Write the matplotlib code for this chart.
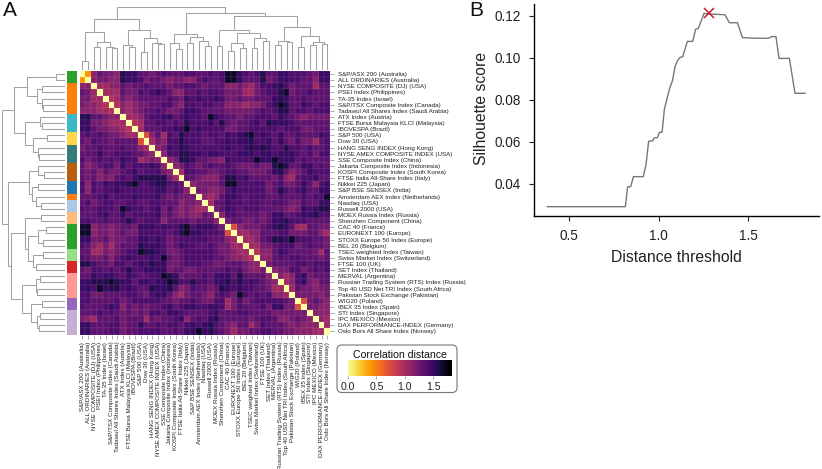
import numpy as np
import matplotlib
matplotlib.use("Agg")
import matplotlib.pyplot as plt
from matplotlib.patches import FancyBboxPatch

plt.rcParams['font.family'] = ['Liberation Sans', 'DejaVu Sans']

W, H = 822, 469

index_names = [
    "S&P/ASX 200 (Australia)", "ALL ORDINARIES (Australia)", "NYSE COMPOSITE (DJ) (USA)",
    "PSEI Index (Philippines)", "TA-35 Index (Israel)", "S&P/TSX Composite Index (Canada)",
    "Tadawul All Shares Index (Saudi Arabia)", "ATX Index (Austria)",
    "FTSE Bursa Malaysia KLCI (Malaysia)", "IBOVESPA (Brazil)", "S&P 500 (USA)", "Dow 30 (USA)",
    "HANG SENG INDEX (Hong Kong)", "NYSE AMEX COMPOSITE INDEX (USA)", "SSE Composite Index (China)",
    "Jakarta Composite Index (Indonesia)", "KOSPI Composite Index (South Korea)",
    "FTSE Italia All-Share Index (Italy)", "Nikkei 225 (Japan)", "S&P BSE SENSEX (India)",
    "Amsterdam AEX Index (Netherlands)", "Nasdaq (USA)", "Russell 2000 (USA)",
    "MOEX Russia Index (Russia)", "Shenzhen Component (China)", "CAC 40 (France)",
    "EURONEXT 100 (Europe)", "STOXX Europe 50 Index (Europe)", "BEL 20 (Belgium)",
    "TSEC weighted Index (Taiwan)", "Swiss Market Index (Switzerland)", "FTSE 100 (UK)",
    "SET Index (Thailand)", "MERVAL (Argentina)", "Russian Trading System (RTS) Index (Russia)",
    "Top 40 USD Net TRI Index (South Africa)", "Pakistan Stock Exchange (Pakistan)", "WIG20 (Poland)",
    "IBEX 35 Index (Spain)", "STI Index (Singapore)", "IPC MEXICO (Mexico)",
    "DAX PERFORMANCE-INDEX (Germany)", "Oslo Bors All Share Index (Norway)",
]

# upper triangle of the distance matrix, read cell by cell (coded shades)
upper_rows = [
    "a354438775" "5456555665" "5656997656" "8557766654" "77",
    "3443387764" "5543443356" "5569975558" "4577665537" "7",
    "2233545565" "5545566545" "5533432466" "7864555255",
    "2225446567" "6533556566" "5444224566" "894556555",
    "1243455555" "6547676676" "4454455578" "75565555",
    "1323445566" "4366566553" "3323346798" "5576566",
    "3234556544" "5776555544" "4445656885" "665666",
    "2235667756" "7665976554" "5566657654" "34444",
    "1255665658" "6667585455" "6758777655" "5555",
    "2555667796" "7666644556" "6666566644" "555",
    "b352658666" "5665767896" "7657556555" "76",
    "2436686665" "5667677866" "7575464425" "6",
    "3476876666" "6676678787" "6686656556",
    "3668877677" "6667776776" "777656466",
    "3488755443" "7666697797" "77565555",
    "3465456556" "5444544898" "5577565",
    "2665544566" "5544457853" "457666",
    "5543335886" "7555546325" "66755",
    "3444459966" "6664564457" "5367",
    "4433467666" "6645865675" "577",
    "3235776566" "6556555656" "69",
    "2557665665" "5665446557" "7",
    "4576566655" "5543476788",
    "3665555457" "755677866",
    "4554454577" "86665555",
    "b344456787" "5225544",
    "2233555664" "445532",
    "2235688796" "66554",
    "2244566645" "6554",
    "1335765555" "425",
    "3356566555" "45",
    "4555566566" "6",
    "3446645656",
    "323674555",
    "23674355",
    "2544344",
    "444434",
    "b4543",
    "4433",
    "333",
    "32",
    "2",
]
shade_values = {"a": 0.42, "b": 0.75, "1": 0.95, "2": 1.05, "3": 1.15, "4": 1.25,
                "5": 1.34, "6": 1.42, "7": 1.5, "8": 1.58, "9": 1.7}

# clusters along the rows
cluster_sizes = [2, 5, 3, 2, 3, 3, 2, 1, 2, 2, 4, 2, 2, 4, 2, 4]
cluster_colors = ["#2ca02c", "#ff7f0e", "#3ab8c8", "#ffd54a", "#367a7a", "#b85f10", "#1f77b4",
                  "#ff7f0e", "#aec7e8", "#ffbb78", "#2ca02c", "#98df8a", "#d62728", "#ff9896",
                  "#9467bd", "#c5b0d5"]

# linkage tree: (merge height, left, right); ints are leaf numbers
tree = (190,
        (153,
         (115, (27, 1, 2),
          (83, (70, 3, 4), (70, 5, (67, 6, 7)))),
         (120, (74, 8, (68, 9, 10)),
          (95, (55, 11, 12), (80, 13, (77, 14, 15))))),
        (170,
         (107, (80, 16, (63, 17, 18)),
          (98, (80, 19, 20), (88, 21, (72, 22, 23)))),
         (163,
          (120, (73, 24, 25),
           (112, (80, (58, 26, 27), (65, 28, 29)),
            (95, (65, 30, 31), (88, 32, 33)))),
          (130, (87, (75, 34, 35), (85, 36, 37)),
           (102, (70, 38, 39),
            (83, (75, 40, 41), (77, 42, 43)))))))

# panel B
threshold = [0.379, 0.814, 0.827, 0.844, 0.859, 0.914, 0.929, 0.944, 0.967, 0.974, 0.993, 1.004,
             1.019, 1.032, 1.046, 1.063, 1.078, 1.091, 1.104, 1.119, 1.134, 1.160, 1.190, 1.206,
             1.221, 1.253, 1.268, 1.370, 1.394, 1.439, 1.467, 1.537, 1.612, 1.630, 1.654, 1.671,
             1.729, 1.760, 1.816]
silhouette = [0.0292, 0.0292, 0.0387, 0.0387, 0.0435, 0.0435, 0.0490, 0.0603, 0.0606, 0.0619,
              0.0621, 0.0646, 0.0646, 0.0757, 0.0805, 0.0860, 0.0895, 0.0959, 0.0986, 0.1003,
              0.1006, 0.1079, 0.1079, 0.1137, 0.1141, 0.1213, 0.1210, 0.1206, 0.1168, 0.1168,
              0.1097, 0.1094, 0.1094, 0.1102, 0.1102, 0.0998, 0.0998, 0.0832, 0.0832]
best_threshold, best_score = 1.279, 0.1213


def pax(x0, y0, x1, y1, **kw):
    return fig.add_axes([x0 / W, 1 - y1 / H, (x1 - x0) / W, (y1 - y0) / H], **kw)


def build_matrix():
    n = len(index_names)
    m = np.zeros((n, n))
    for i, row in enumerate(upper_rows):
        assert len(row) == n - i - 1, (i, len(row))
        for k, c in enumerate(row):
            j = i + 1 + k
            m[i, j] = m[j, i] = shade_values[c]
    return m


def draw_tree(node, ax, vertical):
    if isinstance(node, int):
        return node - 0.5, 0
    h, a, b = node
    pa, ha = draw_tree(a, ax, vertical)
    pb, hb = draw_tree(b, ax, vertical)
    ps, hs = [pa, pa, pb, pb], [ha, h, h, hb]
    if vertical:
        ax.plot(ps, hs, color="#a2a2a2", lw=0.75, solid_joinstyle="miter")
    else:
        ax.plot(hs, ps, color="#a2a2a2", lw=0.75, solid_joinstyle="miter")
    return (pa + pb) / 2, h


fig = plt.figure(figsize=(W / 100, H / 100), dpi=100)
n = len(index_names)
dist = build_matrix()

hx0, hx1, hy0, hy1 = 79.5, 330.3, 71, 334.5
ax = pax(hx0, hy0, hx1, hy1)
mesh = ax.pcolormesh(np.arange(n + 1), np.arange(n + 1), dist, cmap="inferno_r", vmin=0, vmax=1.83,
                     edgecolors=(1, 1, 1, 0.04), linewidth=0.3)
ax.set_xlim(0, n)
ax.set_ylim(n, 0)
for s in ax.spines.values():
    s.set_visible(False)
ax.yaxis.tick_right()
ax.set_xticks(np.arange(n) + 0.5)
ax.set_yticks(np.arange(n) + 0.5)
ax.set_xticklabels(index_names, rotation=90, fontsize=4.5, color="#222222", va="top")
ax.set_yticklabels(index_names, fontsize=4.5, color="#222222")
ax.tick_params(axis="both", length=3.2, width=0.5, color="#888888", pad=2)

top = pax(hx0, 6.7, hx1, 70)
draw_tree(tree, top, True)
top.set_xlim(0, n)
top.set_ylim(0, 190)
top.axis("off")

left = pax(1.7, hy0, 65, hy1)
draw_tree(tree, left, False)
left.set_xlim(190, 0)
left.set_ylim(n, 0)
left.axis("off")

strip = pax(67, hy0, 77, hy1)
start = 0
for size, col in zip(cluster_sizes, cluster_colors):
    strip.bar(0.5, size, bottom=start, width=1, color=col, linewidth=0)
    start += size
strip.set_xlim(0, 1)
strip.set_ylim(n, 0)
strip.axis("off")

# colorbar box
deco = fig.add_axes([0, 0, 1, 1], facecolor="none", zorder=3)
deco.set_xlim(0, W)
deco.set_ylim(H, 0)
deco.axis("off")
deco.add_patch(FancyBboxPatch((337, 345), 120, 47.5, boxstyle="round,pad=0,rounding_size=5",
                              fc="none", ec="#777777", lw=0.8))
deco.text(400, 355, "Correlation distance", ha="center", va="center", fontsize=7.6, color="#111111")

cax = pax(348, 360, 452, 376)
cax.set_zorder(4)
cb = fig.colorbar(mesh, cax=cax, orientation="horizontal", ticks=[0, 0.5, 1.0, 1.5])
cb.outline.set_visible(False)
cb.solids.set_edgecolor("face")
cax.tick_params(length=2.5, width=0.5, color="#888888", labelsize=7.6, pad=1.5, labelcolor="#222222")
cax.set_xticklabels(["0.0", "0.5", "1.0", "1.5"])

# panel B
bx = pax(534.3, 3.5, 819, 216)
bx.plot(threshold, silhouette, color="#777777", lw=1.0)
bx.plot([best_threshold], [best_score], marker="x", color="#c01f33", ms=7.5, mew=1.1, ls="none")
bx.set_xlim(0.3065, 1.894)
bx.set_ylim(0.02476, 0.12595)
bx.set_xticks([0.5, 1.0, 1.5])
bx.set_yticks([0.04, 0.06, 0.08, 0.10, 0.12])
bx.set_yticklabels(["0.04", "0.06", "0.08", "0.10", "0.12"])
bx.spines["top"].set_visible(False)
bx.spines["right"].set_visible(False)
bx.spines["left"].set_linewidth(1.0)
bx.spines["bottom"].set_linewidth(1.0)
bx.tick_params(length=3.5, width=0.8, labelsize=9.8, pad=6, color="#222222", labelcolor="#222222")
fig.text(676 / W, 1 - 257 / H, "Distance threshold", ha="center", va="center", fontsize=11.3, color="#222222")
fig.text(482 / W, 1 - 108 / H, "Silhouette score", rotation=90, ha="center", va="center", fontsize=11.3, color="#222222")

fig.text(10 / W, 1 - 16 / H, "A", ha="center", va="baseline", fontsize=15, color="#111111")
fig.text(476.5 / W, 1 - 16 / H, "B", ha="center", va="baseline", fontsize=15, color="#111111")

fig.savefig("out.png", dpi=100)
